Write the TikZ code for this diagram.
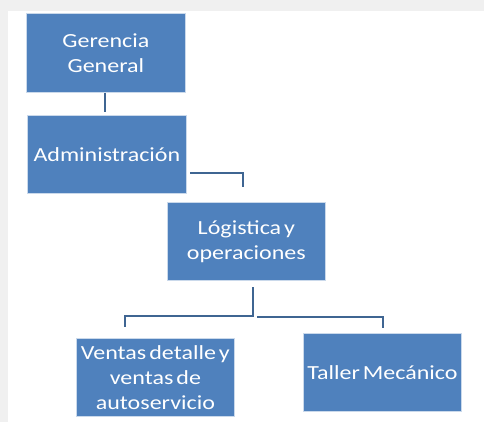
\documentclass[tikz,border=0pt]{standalone}
\usepackage{fontspec}
\setmainfont{Carlito}[FakeStretch=1.2,WordSpace=0.55]
\begin{document}
\begin{tikzpicture}[x=1pt,y=-1pt,
  orgbox/.style={draw=white!70!orgblue,line width=0.8pt,fill=orgblue,text=white,inner sep=0pt,align=center,
    font=\fontsize{20}{25}\selectfont,anchor=north west},
  conn/.style={draw=orgline,line width=2.2pt}]
\definecolor{orgblue}{HTML}{4F81BD}
\definecolor{orgline}{HTML}{3F6592}
\fill[gray!12] (0,0) rectangle (484,422);
\fill[white] (8,11) rectangle (484,422);
\useasboundingbox (0,0) rectangle (484,422);
\node[orgbox,minimum width=159pt,minimum height=79pt] (ger) at (26,13) {Gerencia\\General};
\node[orgbox,minimum width=159pt,minimum height=78pt] (adm) at (27,115) {Administración};
\node[orgbox,minimum width=158pt,minimum height=78pt] (log) at (167,202) {Lógistica y\\operaciones};
\node[orgbox,minimum width=158pt,minimum height=78pt] (ven) at (76,338) {Ventas detalle y\\ventas de\\autoservicio};
\node[orgbox,minimum width=158pt,minimum height=78pt] (tal) at (303,333) {Taller Mecánico};
\coordinate (g1) at (105,93);
\coordinate (g2) at (105,112);
\coordinate (a1) at (190,173);
\coordinate (a2) at (243,173);
\coordinate (a3) at (243,187);
\coordinate (l1) at (253,287);
\coordinate (l2) at (253,316);
\coordinate (v1) at (125,316);
\coordinate (v2) at (125,327);
\coordinate (t0) at (257,317);
\coordinate (t1) at (383,317);
\coordinate (t2) at (383,328);
\draw[conn] (g1) -- (g2);
\draw[conn] (a1) -- (a2) -- (a3);
\draw[conn] (l1) -- (l2) -- (v1) -- (v2);
\draw[conn] (t0) -- (t1) -- (t2);
\end{tikzpicture}
\end{document}
